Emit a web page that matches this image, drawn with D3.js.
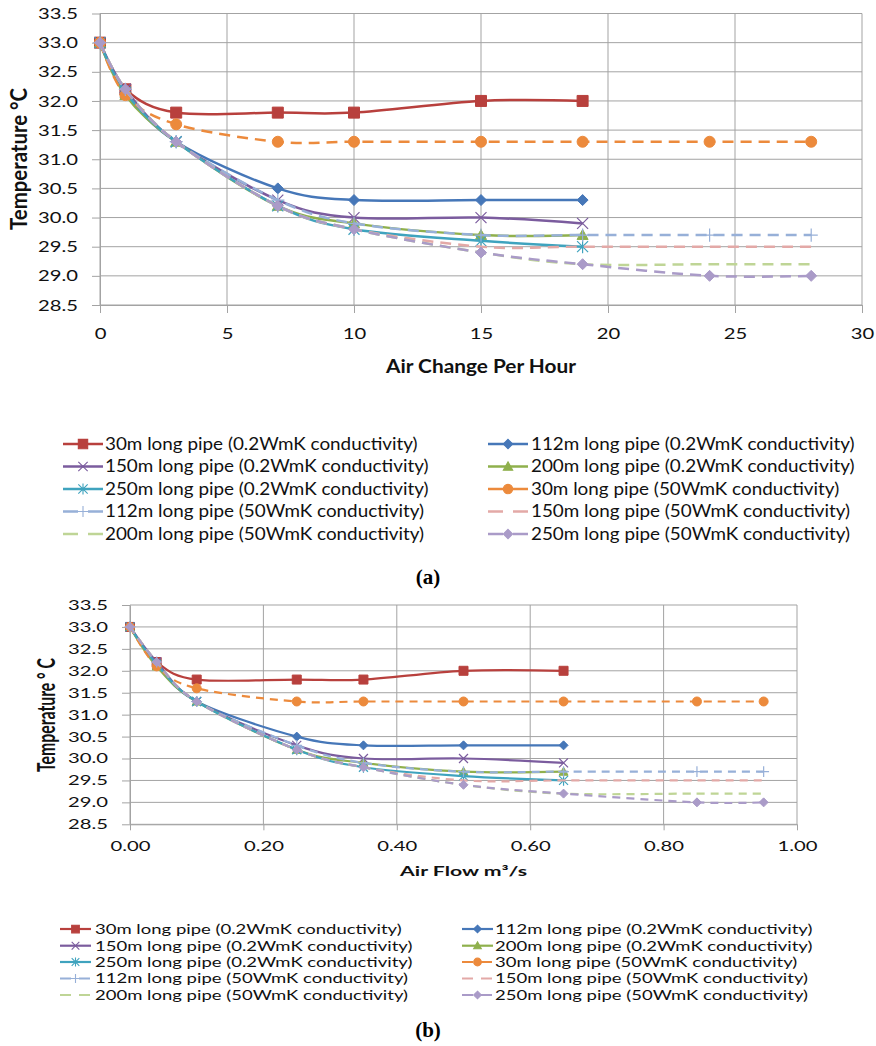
<!DOCTYPE html>
<html>
<head>
<meta charset="utf-8">
<script src="https://cdn.jsdelivr.net/npm/d3@7"></script>
<style>
  body{margin:0;background:#fff}
  svg{display:block}
</style>
</head>
<body>
<script>
// ---- data ----
const achValues  = [0, 1, 3, 7, 10, 15, 19, 24, 28];
const flowValues = [0, 0.04, 0.10, 0.25, 0.35, 0.50, 0.65, 0.85, 0.95];

const seriesNames = [
  '30m long pipe (0.2WmK conductivity)',
  '112m long pipe (0.2WmK conductivity)',
  '150m long pipe (0.2WmK conductivity)',
  '200m long pipe (0.2WmK conductivity)',
  '250m long pipe (0.2WmK conductivity)',
  '30m long pipe (50WmK conductivity)',
  '112m long pipe (50WmK conductivity)',
  '150m long pipe (50WmK conductivity)',
  '200m long pipe (50WmK conductivity)',
  '250m long pipe (50WmK conductivity)'
];

const t30Low   = [33.0, 32.2, 31.8, 31.8, 31.8, 32.0, 32.0];
const t112Low  = [33.0, 32.15, 31.3, 30.5, 30.3, 30.3, 30.3];
const t150Low  = [33.0, 32.2, 31.3, 30.3, 30.0, 30.0, 29.9];
const t200Low  = [33.0, 32.1, 31.3, 30.2, 29.9, 29.7, 29.7];
const t250Low  = [33.0, 32.15, 31.3, 30.2, 29.8, 29.6, 29.5];
const t30High  = [33.0, 32.1, 31.6, 31.3, 31.3, 31.3, 31.3, 31.3, 31.3];
const t112High = [33.0, 32.2, 31.3, 30.3, 29.9, 29.7, 29.7, 29.7, 29.7];
const t150High = [33.0, 32.2, 31.3, 30.2, 29.8, 29.5, 29.5, 29.5, 29.5];
const t200High = [33.0, 32.2, 31.3, 30.2, 29.8, 29.4, 29.2, 29.2, 29.2];
const t250High = [33.0, 32.2, 31.3, 30.2, 29.8, 29.4, 29.2, 29.0, 29.0];

const temps = [t30Low, t112Low, t150Low, t200Low, t250Low,
               t30High, t112High, t150High, t200High, t250High];

const yTicks  = [28.5, 29.0, 29.5, 30.0, 30.5, 31.0, 31.5, 32.0, 32.5, 33.0, 33.5];
const xTicksA = [0, 5, 10, 15, 20, 25, 30];
const xTicksB = [0, 0.2, 0.4, 0.6, 0.8, 1.0];

// ---- styles ----
const STY = [
  {c:'#B8403D', m:'square'},
  {c:'#4677B8', m:'diamond'},
  {c:'#7B5C9E', m:'x'},
  {c:'#8FB04C', m:'triangle'},
  {c:'#3FA3BE', m:'star'},
  {c:'#EC8A3C', m:'circle',  dash:true},
  {c:'#97B0D8', m:'plus',    dash:true},
  {c:'#E3A9A7', m:null,      dash:true},
  {c:'#BFD596', m:null,      dash:true},
  {c:'#AA9BC8', m:'diamond', dash:true}
];

const W = 876, H = 1046;
const svg = d3.select('body').append('svg').attr('width', W).attr('height', H)
  .style('font-family', 'Lato, Carlito, sans-serif');

function markerPath(type, s){
  switch(type){
    case 'square':   return `M${-s},${-s}H${s}V${s}H${-s}Z`;
    case 'diamond':  return `M0,${-s}L${s},0L0,${s}L${-s},0Z`;
    case 'triangle': return `M0,${-s}L${s},${s*0.8}L${-s},${s*0.8}Z`;
    case 'circle':   return d3.symbol(d3.symbolCircle, Math.PI*s*s)();
    case 'x':        return `M${-s},${-s}L${s},${s}M${-s},${s}L${s},${-s}`;
    case 'star':     return `M${-s},${-s}L${s},${s}M${-s},${s}L${s},${-s}M0,${-s*1.2}V${s*1.2}`;
    case 'plus':     return `M${-s*1.2},0H${s*1.2}M0,${-s*1.2}V${s*1.2}`;
  }
}
const openMarker = m => m==='x' || m==='star' || m==='plus';

function measure(text, size, weight){
  const t = svg.append('text').attr('font-size', size).attr('font-weight', weight||400).text(text);
  const w = t.node().getComputedTextLength();
  t.remove();
  return w;
}
function stretch(sel, k){
  sel.each(function(){
    const t = d3.select(this);
    const x = +(t.attr('x') || 0);
    t.attr('x', x / k).attr('transform', `scale(${k},1)`);
  });
}

function drawChart(cfg){
  const g = svg.append('g');
  const x = d3.scaleLinear().domain(cfg.xDomain).range([cfg.left, cfg.right]);
  const y = d3.scaleLinear().domain([28.5, 33.5]).range([cfg.bottom, cfg.top]);
  const grid = '#A3A3A3';

  // gridlines
  g.append('g').selectAll('line').data(yTicks).join('line')
    .attr('x1', cfg.left).attr('x2', cfg.right)
    .attr('y1', d => y(d)).attr('y2', d => y(d))
    .attr('stroke', grid).attr('stroke-width', 1);
  g.append('g').selectAll('line').data(cfg.xTicks).join('line')
    .attr('x1', d => x(d)).attr('x2', d => x(d))
    .attr('y1', cfg.top).attr('y2', cfg.bottom)
    .attr('stroke', grid).attr('stroke-width', 1);

  const kTick = 40 / measure('33.5', cfg.tickSize);

  // axes
  const ya = g.append('g').attr('transform', `translate(${cfg.left},0)`)
    .call(d3.axisLeft(y).tickValues(yTicks).tickFormat(d3.format('.1f'))
      .tickSize(8).tickSizeOuter(0).tickPadding(14));
  const xa = g.append('g').attr('transform', `translate(0,${cfg.bottom})`)
    .call(d3.axisBottom(x).tickValues(cfg.xTicks).tickFormat(cfg.xFmt)
      .tickSize(cfg.xTickLen).tickSizeOuter(0).tickPadding(cfg.xPad));
  [ya, xa].forEach(a => {
    a.select('.domain').attr('stroke', grid);
    a.selectAll('.tick line').attr('stroke', grid);
    a.selectAll('.tick text').attr('fill', '#111')
      .attr('font-size', cfg.tickSize).attr('font-family', 'Lato, Carlito, sans-serif');
    stretch(a.selectAll('.tick text'), kTick);
  });

  // series
  const lineGen = d3.line().curve(d3.curveCardinal.tension(0));
  temps.forEach((vals, i) => {
    const st = STY[i];
    const pts = vals.map((v, j) => [x(cfg.xVals[j]), y(v)]);
    g.append('path').attr('d', lineGen(pts))
      .attr('fill', 'none').attr('stroke', st.c).attr('stroke-width', cfg.lw)
      .attr('stroke-dasharray', st.dash ? cfg.dash : null)
      .attr('stroke-linejoin', 'round');
    if(st.m){
      g.append('g').selectAll('path').data(pts).join('path')
        .attr('transform', p => `translate(${p[0]},${p[1]})`)
        .attr('d', markerPath(st.m, cfg.ms))
        .attr('fill', openMarker(st.m) ? 'none' : st.c)
        .attr('stroke', st.c).attr('stroke-width', openMarker(st.m) ? 1.2 : 1);
    }
  });

  // axis titles
  const kTitle = cfg.xTitleW / measure(cfg.xTitle, cfg.titleSize, 700);
  const xt = g.append('text').attr('x', (cfg.left + cfg.right) / 2).attr('y', cfg.xTitleY)
    .attr('text-anchor', 'middle').attr('font-weight', 700).attr('font-size', cfg.titleSize)
    .attr('fill', '#111').text(cfg.xTitle);
  stretch(xt, kTitle);
  const yFont = cfg.titleSize * cfg.yTitleL / measure(cfg.yTitle, cfg.titleSize, 700);
  g.append('text')
    .attr('transform', `translate(${cfg.yTitleX},${cfg.yTitleC}) scale(${kTitle},1) rotate(-90)`)
    .attr('text-anchor', 'middle').attr('font-weight', 700).attr('font-size', yFont)
    .attr('fill', '#111').text(cfg.yTitle);

  // legend
  const kLeg = cfg.legW / measure(seriesNames[0], cfg.legSize);
  const lg = g.append('g');
  seriesNames.forEach((name, i) => {
    const st = STY[i];
    const col = i % 2, row = Math.floor(i / 2);
    const sx0 = cfg.legSw[col], sx1 = sx0 + cfg.legSwW;
    const ly = cfg.legY[row];
    lg.append('line').attr('x1', sx0).attr('x2', sx1).attr('y1', ly).attr('y2', ly)
      .attr('stroke', st.c).attr('stroke-width', cfg.lw)
      .attr('stroke-dasharray', st.dash ? cfg.legDash : null);
    if(st.m){
      lg.append('path').attr('transform', `translate(${(sx0 + sx1) / 2},${ly})`)
        .attr('d', markerPath(st.m, cfg.ms * 0.85))
        .attr('fill', openMarker(st.m) ? 'none' : st.c)
        .attr('stroke', st.c).attr('stroke-width', 1.1);
    }
    const t = lg.append('text').attr('x', cfg.legText[col]).attr('y', ly)
      .attr('dy', '0.35em').attr('font-size', cfg.legSize).attr('fill', '#111').text(name);
    stretch(t, kLeg);
  });

  // caption
  svg.append('text').attr('x', 428).attr('y', cfg.capY).attr('text-anchor', 'middle')
    .attr('font-family', '"Liberation Serif", "Times New Roman", serif')
    .attr('font-weight', 700).attr('font-size', 21).attr('fill', '#000').text(cfg.caption);
}

drawChart({
  xVals: achValues, xDomain: [0, 30], xTicks: xTicksA, xFmt: d3.format('d'),
  left: 100, right: 862, top: 13.5, bottom: 305,
  tickSize: 16, xTickLen: 8, xPad: 15,
  lw: 2.5, ms: 5.5, dash: '11,7', legDash: '15,10',
  xTitle: 'Air Change Per Hour', xTitleW: 190, xTitleY: 373, titleSize: 18,
  yTitle: 'Temperature °C', yTitleX: 27, yTitleC: 159, yTitleL: 142,
  legSize: 17, legW: 313, legSw: [63, 488], legSwW: 40, legText: [105, 531],
  legY: [444, 466.5, 489, 511.5, 534],
  caption: '(a)', capY: 584
});

drawChart({
  xVals: flowValues, xDomain: [0, 1], xTicks: xTicksB, xFmt: d3.format('.2f'),
  left: 130, right: 797, top: 605, bottom: 824.3,
  tickSize: 14, xTickLen: 6, xPad: 11,
  lw: 2.2, ms: 4.5, dash: '8,6', legDash: '11,8',
  xTitle: 'Air Flow m³/s', xTitleW: 127, xTitleY: 876, titleSize: 14,
  yTitle: 'Temperature ° C', yTitleX: 55, yTitleC: 715, yTitleL: 114,
  legSize: 14, legW: 307, legSw: [60, 462], legSwW: 31, legText: [95, 495],
  legY: [929, 945.7, 962, 978.5, 995],
  caption: '(b)', capY: 1037
});
</script>
</body>
</html>
